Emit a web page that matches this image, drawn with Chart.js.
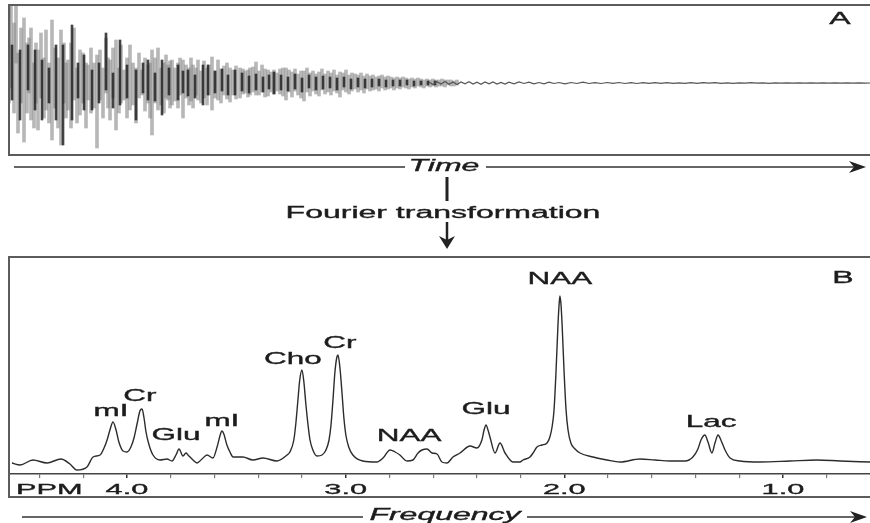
<!DOCTYPE html>
<html><head><meta charset="utf-8">
<script src="https://cdn.jsdelivr.net/npm/chart.js@4"></script>
<style>
html,body{margin:0;padding:0;background:#fff;width:870px;height:523px;overflow:hidden;position:relative;font-family:"Liberation Sans",Arial,sans-serif;}
.box{position:absolute;border:2px solid #5c5c5c;border-right:none;box-sizing:border-box;}
#boxA{left:8px;top:4px;width:880px;height:152px;}
#boxB{left:8px;top:256px;width:880px;height:242px;}
canvas{position:absolute;}
#cA{left:10px;top:6px;}
#cB{left:10px;top:258px;}
.lbl{position:absolute;color:#1c1c1c;font-size:16px;white-space:nowrap;line-height:1;transform:translate(-50%,-50%) scaleX(2);-webkit-text-stroke:0.35px #1c1c1c;}
svg{position:absolute;left:0;top:0;}
</style>
</head><body>
<div class="box" id="boxA"></div>
<div class="box" id="boxB"></div>
<canvas id="cA" width="860" height="148"></canvas>
<canvas id="cB" width="860" height="238"></canvas>
<svg width="870" height="523">
  <g stroke="#333" stroke-width="1.3">
    <line x1="14" y1="167" x2="405" y2="167"/>
    <line x1="486" y1="167" x2="858" y2="167"/>
    <line x1="22" y1="517" x2="363" y2="517"/>
    <line x1="527" y1="517" x2="858" y2="517"/>
  </g>
  <polygon points="866,167 849,161 854,167 849,173" fill="#222"/>
  <polygon points="867,517 850,511 855,517 850,523" fill="#222"/>
  <line x1="447" y1="177" x2="447" y2="201" stroke="#222" stroke-width="3"/>
  <line x1="447" y1="222" x2="447" y2="242" stroke="#222" stroke-width="2.5"/>
  <polygon points="447,249 439,236 447,240 455,236" fill="#222"/>
</svg>
<div class="lbl" style="left:444px;top:166px;font-style:italic;">Time</div>
<div class="lbl" style="left:443px;top:213px;">Fourier transformation</div>
<div class="lbl" style="left:445px;top:515px;font-style:italic;">Frequency</div>
<div class="lbl" style="left:840px;top:19px;">A</div>
<div class="lbl" style="left:843px;top:278px;">B</div>
<script>
// ---- Panel A: free induction decay (time domain), [time, low, high] ----
const fidGrey = [
[0,-20,78],[2,-5,78],[5,-30,60],[7,20,78],[9,-50,30],[12,-20,55],[15,-59,65],[18,-30,40],[20,-10,45],[22,-37,55],
[25,-45,20],[27,-20,40],[29,-47,33],[32,-15,50],[35,-35,25],[37,-27,53],[40,-40,20],[43,-57,63],[46,-25,35],[49,-45,25],
[52,-62,53],[55,-20,40],[57,-35,20],[59,-27,23],[62,-45,40],[65,-17,55],[68,-40,15],[71,-32,33],[74,-20,30],[77,-45,20],
[79,-17,18],[82,-30,35],[85,-25,20],[88,-65,28],[91,-17,33],[94,-35,15],[97,-10,45],[99,-25,25],[101,-37,23],[104,-15,35],
[107,-47,43],[110,-30,15],[112,-20,38],[115,-17,13],[118,-35,25],[121,-27,38],[124,-22,20],[127,-40,15],[130,-15,30],[133,-12,13],
[136,-28,25],[139,-20,18],[141,-35,20],[143,-52,33],[146,-20,25],[149,-27,35],[152,-22,15],[155,-30,20],[157,-15,28],[159,-17,18],
[161,-25,22],[163,-22,23],[166,-18,15],[169,-25,20],[171,-12,25],[174,-35,23],[177,-15,18],[180,-22,15],[182,-18,25],[184,-25,18],
[187,-12,15],[189,-17,23],[192,-20,12],[195,-15,22],[198,-22,15],[200,-12,18],[203,-27,26],[206,-15,12],[209,-17,23],[212,-20,14],
[215,-12,17],[218,-16,20],[221,-19,15],[224,-12,13],[227,-16,17],[231,-15,15],[234,-11,14],[236,-10,12],[239,-14,13],[241,-12,15],
[244,-9,16],[247,-12,21],[250,-12,12],[253,-9,18],[256,-14,14],[259,-13,13],[262,-9,11],[265,-11,13],[268,-8,10],[271,-11,14],
[274,-13,15],[277,-17,15],[280,-9,13],[283,-14,11],[286,-8,14],[289,-12,9],[292,-15,12],[295,-18,12],[298,-9,15],[301,-13,10],
[304,-8,12],[307,-11,9],[310,-13,11],[313,-7,14],[316,-11,9],[319,-9,12],[322,-12,10],[325,-8,13],[328,-10,8],[331,-14,11],
[334,-7,10],[337,-9,13],[340,-11,8],[343,-8,10],[346,-6,9],[349,-9,8],[352,-7,10],[355,-10,7],[358,-6,9],[361,-8,7],
[364,-7,8],[367,-6,6],[370,-8,7],[373,-5,8],[376,-7,6],[379,-6,7],[382,-5,6],[385,-7,5],[388,-5,6],[391,-6,5],
[394,-4,6],[397,-5,5],[400,-6,4],[403,-4,5],[406,-5,4],[409,-3,5],[412,-4,4],[415,-5,3],[418,-3,4],[421,-4,3],
[424,-3,4],[427,-4,3],[430,-3,3],[433,-3,4],[436,-4,3],[439,-2,3],[442,-3,3],[445,-3,2],[448,-2,3]
];
const fidDark = [
[3,-17,38],[11,-37,33],[19,-7,38],[26,-27,33],[33,-37,23],[40,-20,15],[47,-37,38],[54,-62,38],[63,-37,58],[69,-15,20],
[75,-27,28],[83,-27,13],[90,-20,20],[97,-7,50],[104,-25,10],[111,-22,43],[118,-15,18],[127,-37,13],[134,-10,20],[139,-17,23],
[146,-18,10],[153,-32,23],[160,-12,15],[169,-17,18],[174,-10,12],[179,-13,13],[186,-15,8],[194,-22,18],[199,-12,18],[206,-10,12],
[213,-8,14],[219,-12,8],[226,-12,13],[233,-8,10],[240,-10,7],[247,-7,9],[254,-9,6],[260,-6,8],[265,-11,11],[272,-7,8],
[279,-8,6],[286,-6,9],[293,-9,5],[300,-5,8],[307,-7,6],[314,-6,7],[321,-5,6],[328,-7,5],[335,-4,6],[342,-6,4],
[349,-4,5],[356,-5,4],[363,-4,4],[370,-3,4],[377,-4,3],[384,-3,3],[391,-3,3],[398,-2,3],[405,-3,2],[412,-2,2],[419,-2,2],[426,-2,2]
];
const fidTail = [
[420,1],[424,-1.5],[428,1.2],[432,-1],[436,1.5],[440,-1.2],[444,1],[448,-1.5],[452,1],[456,-0.8],[460,1.2],[464,-1],[468,0.8],[472,-1.2],
[476,1],[480,-0.8],[484,1],[488,-1],[492,0.5],[496,-1],[500,0.8],[505,-0.8],[510,1],[515,-0.5],[520,0.8],[525,-0.8],[530,0.5],[535,-0.8],
[540,0.8],[545,-0.5],[550,0.5],[556,-0.8],[562,0.5],[568,-0.5],[574,0.8],[580,-0.5],[586,0.3],[592,-0.5],[598,0.5],[604,-0.3],[610,0.5],[616,-0.5],
[622,0.3],[628,-0.5],[634,0.3],[640,-0.4],[646,0.3],[652,-0.3],[658,0.4],[664,-0.3],[670,0.2],[676,-0.4],[682,0.3],[688,-0.3],
[694,0.3],[700,-0.2],[706,0.3],[712,-0.3],[718,0.2],[724,-0.3],[730,0.2],[736,-0.2],[742,0.3],[748,-0.2],[754,0.2],[760,-0.3],
[766,0.2],[772,-0.2],[778,0.2],[784,-0.2],[790,0.2],[796,-0.2],[802,0.2],[808,-0.1],[814,0.2],[820,-0.2],[826,0.1],[832,-0.2],
[838,0.1],[844,-0.1],[850,0.2],[856,-0.1],[861,0]
];

// ---- Panel B: spectrum, [ppm, intensity] ----
const spectrum = [
[4.526,-1],[4.489,-3],[4.430,2],[4.366,-1],[4.302,3],[4.261,-2],[4.229,-8],[4.183,-5],[4.155,5],[4.123,7],[4.105,14],[4.091,22],
[4.078,32],[4.064,40],[4.050,32],[4.037,20],[4.018,11],[4.000,10],[3.982,15],[3.968,24],[3.954,38],[3.941,51],[3.931,53],[3.922,44],
[3.913,30],[3.899,17],[3.881,7],[3.849,2],[3.817,3],[3.794,1],[3.776,7],[3.762,13],[3.744,6],[3.730,9],[3.721,7],[3.698,2],
[3.680,-1],[3.657,3],[3.634,7],[3.607,4],[3.588,15],[3.575,26],[3.566,31],[3.557,28],[3.543,17],[3.529,10],[3.515,5],[3.470,5],
[3.424,2],[3.378,4],[3.314,1],[3.268,7],[3.255,10],[3.237,22],[3.228,38],[3.219,60],[3.210,82],[3.200,92],[3.191,80],[3.182,58],
[3.172,37],[3.163,22],[3.150,12],[3.131,6],[3.108,7],[3.090,12],[3.076,22],[3.067,37],[3.058,62],[3.049,90],[3.040,105],[3.035,107],
[3.026,94],[3.017,70],[3.008,44],[2.999,27],[2.986,15],[2.967,7],[2.921,1],[2.857,0],[2.829,4],[2.797,12],[2.774,10],[2.752,7],
[2.720,1],[2.692,2],[2.669,9],[2.651,12],[2.628,13],[2.605,9],[2.582,8],[2.560,0],[2.537,-1],[2.509,5],[2.477,9],[2.431,16],
[2.400,14],[2.377,22],[2.367,32],[2.358,37],[2.349,32],[2.340,25],[2.317,9],[2.294,19],[2.271,9],[2.235,0],[2.203,0],[2.189,2],
[2.157,5],[2.143,9],[2.125,15],[2.102,17],[2.079,19],[2.066,25],[2.056,35],[2.047,52],[2.038,90],[2.029,137],[2.024,157],[2.020,166],
[2.015,157],[2.010,137],[2.001,90],[1.992,52],[1.983,32],[1.970,19],[1.951,13],[1.928,9],[1.869,5],[1.805,2],[1.745,0],[1.654,3],
[1.585,2],[1.517,1],[1.448,1],[1.412,5],[1.389,13],[1.375,22],[1.357,27],[1.343,20],[1.325,9],[1.311,19],[1.297,27],[1.284,22],
[1.265,12],[1.242,4],[1.197,1],[1.105,0],[0.968,1],[0.845,2],[0.739,1],[0.602,0]
];
const ppmTicks = [0.8,1.0,1.2,1.4,1.6,1.8,2.0,2.2,2.4,2.6,2.8,3.0,3.2,3.4,3.6,3.8,4.0,4.2,4.4];
const ppmLabels = [1.0,2.0,3.0,4.0];
const peakNames = ['mI','Cr','Glu','mI','Cho','Cr','NAA','Glu','NAA','Lac'];
const peakPpm   = [4.073,3.941,3.776,3.566,3.241,3.026,2.710,2.358,2.020,1.329];
const peakLevel = [51,66,27,41,103,119,26,53,183,40];

const FONT = '"Liberation Sans", Arial, sans-serif';
function stretchedText(ctx, text, x, y, size, sx, align){
  ctx.save();
  ctx.translate(x, y);
  ctx.scale(sx, 1);
  ctx.font = size + 'px ' + FONT;
  ctx.fillStyle = '#1c1c1c';
  ctx.strokeStyle = '#1c1c1c';
  ctx.lineWidth = 0.35;
  ctx.textAlign = align || 'center';
  ctx.textBaseline = 'middle';
  ctx.fillText(text, 0, 0);
  ctx.strokeText(text, 0, 0);
  ctx.restore();
}

new Chart(document.getElementById('cA'), {
  type: 'bar',
  data: { datasets: [
    { type:'bar', data: fidGrey.map(d=>({x:d[0], y:[d[1],d[2]]})), backgroundColor:'rgba(135,135,135,0.6)', barThickness:3, grouped:false, order:3 },
    { type:'bar', data: fidDark.map(d=>({x:d[0], y:[d[1],d[2]]})), backgroundColor:'rgba(35,35,35,0.85)', barThickness:2, grouped:false, order:2 },
    { type:'line', data: fidTail.map(d=>({x:d[0], y:d[1]})), borderColor:'#555', borderWidth:1.2, pointRadius:0, order:1 }
  ]},
  options: {
    responsive:false, animation:false, events:[],
    layout:{padding:0},
    plugins:{legend:{display:false}, tooltip:{enabled:false}},
    scales:{
      x:{type:'linear', min:1, max:861, offset:false, display:false},
      y:{min:-71, max:77, display:false}
    }
  }
});

new Chart(document.getElementById('cB'), {
  type: 'line',
  data: { datasets: [
    { data: spectrum.map(d=>({x:d[0], y:d[1]})), borderColor:'#2c2c2c', borderWidth:1.4, pointRadius:0, cubicInterpolationMode:'monotone', fill:false }
  ]},
  options: {
    responsive:false, animation:false, events:[],
    layout:{padding:0},
    plugins:{legend:{display:false}, tooltip:{enabled:false}},
    scales:{
      x:{
        type:'linear', reverse:true, min:0.602, max:4.535, offset:false,
        afterBuildTicks: s => { s.ticks = ppmTicks.map(v=>({value:v})); },
        afterFit: s => { s.height = 22; },
        ticks:{display:false},
        grid:{drawOnChartArea:false, drawTicks:true, tickLength:4,
              color: c => ppmLabels.includes(Math.round((c.tick?c.tick.value:0)*10)/10) ? '#333' : '#777',
              lineWidth: c => ppmLabels.includes(Math.round((c.tick?c.tick.value:0)*10)/10) ? 1.5 : 1.2},
        border:{display:true, color:'#444', width:1.5}
      },
      y:{min:-12, max:204, display:false}
    }
  },
  plugins:[{
    id:'labelsB',
    afterDraw(chart){
      const ctx = chart.ctx, xs = chart.scales.x, ys = chart.scales.y;
      const yAxisText = chart.chartArea.bottom + 16;
      ppmLabels.forEach(v => stretchedText(ctx, v.toFixed(1), xs.getPixelForValue(v), yAxisText, 15, 2.05));
      stretchedText(ctx, 'PPM', chart.chartArea.left + 6, yAxisText, 15, 2.05, 'left');
      peakNames.forEach((n,i) => stretchedText(ctx, n, xs.getPixelForValue(peakPpm[i]), ys.getPixelForValue(peakLevel[i]), 17, 1.85));
    }
  }]
});
</script>
</body></html>
